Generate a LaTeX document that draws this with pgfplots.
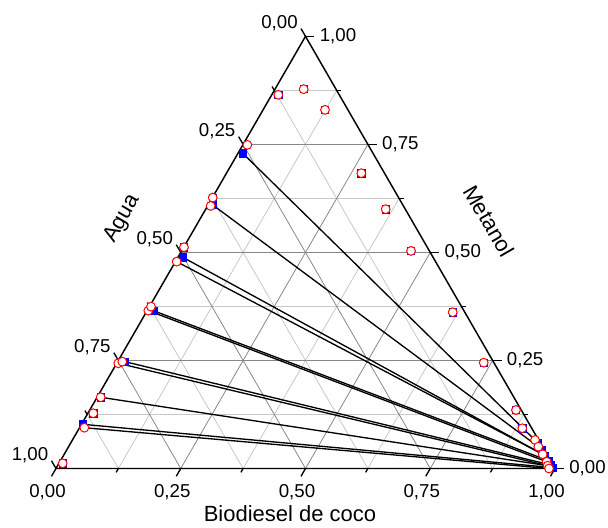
\documentclass[border=0pt]{standalone}
\usepackage{pgfplots}
\pgfplotsset{compat=1.18}
\usepackage{pgfplotstable}
\usepackage{fontspec}
\setmainfont{Liberation Sans}

% ternary data: B = Biodiesel de coco, M = Metanol (Agua = 1 - B - M)
\pgfplotstableread{
B M
0.0132 0.8646
0.0575 0.8778
0.1242 0.8299
0.2702 0.6833
0.3607 0.6000
0.4597 0.5035
0.6142 0.3616
0.7347 0.2449
0.8541 0.1354
0.8879 0.0931
0.0093 0.7296
0.0006 0.6269
0.0090 0.6100
0.0005 0.5120
0.0095 0.4889
0.0124 0.3653
0.0147 0.2472
0.0072 0.1648
0.0108 0.1278
0.0024 0.1023
0.0074 0.0120
0.9350 0.0600
0.9520 0.0440
0.9650 0.0300
0.9780 0.0180
0.9880 0.0080
0.9950 0.0020
}\expdata

\pgfplotstableread{
B M
0.0132 0.8646
0.0575 0.8778
0.1242 0.8299
0.2702 0.6833
0.3607 0.6000
0.4597 0.5035
0.6142 0.3616
0.7347 0.2449
0.8541 0.1354
0.8879 0.0931
0.9269 0.0660
0.9413 0.0505
0.9589 0.0329
0.9755 0.0157
0.9821 0.0065
0.9880 0.0000
0.0090 0.7488
0.0006 0.6269
0.0062 0.6076
0.0005 0.5120
0.0025 0.4787
0.0024 0.3653
0.0031 0.3745
0.0030 0.2435
0.0093 0.2472
0.0072 0.1648
0.0108 0.1278
0.0095 0.0944
0.0074 0.0120
}\calcdata

\pgfplotsset{
  /pgfplots/table/tern/.style={
    /pgfplots/table/x expr=\thisrow{B}+0.5*\thisrow{M},
    /pgfplots/table/y expr=0.8660254*\thisrow{M}},
  tie/.style={black, line width=1pt, no marks},
}

\definecolor{gmaj}{RGB}{135,135,135}
\definecolor{gmin}{RGB}{200,200,200}

\begin{document}
\begin{tikzpicture}
\def\U{374.25pt}
\begin{scope}[x=\U, y=\U, font=\fontsize{14}{16}\selectfont]
\def\h{0.8660254}
\useasboundingbox (-0.11222,-0.11723) rectangle (1.10621,0.93888);
% minor grid
\foreach \v in {0.125,0.375,0.625,0.875}{
  \draw[gmin, line width=0.6pt] ({\v/2},{\v*\h}) -- ({1-\v/2},{\v*\h});
  \draw[gmin, line width=0.6pt] (\v,0) -- ({\v+(1-\v)/2},{(1-\v)*\h});
  \draw[gmin, line width=0.6pt] ({1-\v},0) -- ({(1-\v)/2},{(1-\v)*\h});
}
% major grid
\foreach \v in {0.25,0.5,0.75}{
  \draw[gmaj, line width=0.6pt] ({\v/2},{\v*\h}) -- ({1-\v/2},{\v*\h});
  \draw[gmaj, line width=0.6pt] (\v,0) -- ({\v+(1-\v)/2},{(1-\v)*\h});
  \draw[gmaj, line width=0.6pt] ({1-\v},0) -- ({(1-\v)/2},{(1-\v)*\h});
}
% frame
\draw[black, line width=1.1pt, line join=miter] (0,0) -- (1,0) -- (0.5,\h) -- cycle;
% minor ticks
\foreach \v in {0.125,0.375,0.625,0.875}{
  \draw[black, line width=1pt] (\v,0) -- ++({-0.5*0.009},{-\h*0.009});
  \draw[black, line width=1pt] ({1-\v/2},{\v*\h}) -- ++(0.009,0);
  \draw[black, line width=1pt] ({(1-\v)/2},{(1-\v)*\h}) -- ++({-0.5*0.009},{\h*0.009});
}
% major ticks and labels
\foreach \v/\t in {0/{0,00},0.25/{0,25},0.5/{0,50},0.75/{0,75},1/{1,00}}{
  \draw[black, line width=1pt] (\v,0) -- ++({-0.5*0.018},{-\h*0.018})
     node[anchor=north, xshift=-3pt, yshift=-2pt] {\t};
  \draw[black, line width=1pt] ({1-\v/2},{\v*\h}) -- ++(0.018,0)
     node[anchor=west, inner sep=3.5pt] {\t};
  \draw[black, line width=1pt] ({(1-\v)/2},{(1-\v)*\h}) -- ++({-0.5*0.018},{\h*0.018})
     node[anchor=base east, inner sep=2pt] {\t};
}
% axis titles
\node[font=\fontsize{16.5}{19}\selectfont, inner sep=0.5pt] at (0.469,-0.0905) {Biodiesel de coco};
\node[font=\fontsize{16.5}{19}\selectfont, inner sep=0pt, rotate=60] at (0.1333,0.500) {Agua};
\node[font=\fontsize{16.5}{19}\selectfont, inner sep=0pt, rotate=-60] at (0.8680,0.496) {Metanol};
\end{scope}

\begin{axis}[
  anchor=origin, at={(0,0)},
  x=\U, y=\U,
  xmin=-0.11222, xmax=1.10621, ymin=-0.11723, ymax=0.93888,
  hide axis, clip=false,
]
% tie lines (experimental)
\addplot[tie] table[tern, row sep=\\] {B M\\ 0.0093 0.7296\\ 0.9350 0.0600\\};
\addplot[tie] table[tern, row sep=\\] {B M\\ 0.0090 0.6100\\ 0.9520 0.0440\\};
\addplot[tie] table[tern, row sep=\\] {B M\\ 0.0095 0.4889\\ 0.9650 0.0300\\};
\addplot[tie] table[tern, row sep=\\] {B M\\ 0.0124 0.3653\\ 0.9780 0.0180\\};
\addplot[tie] table[tern, row sep=\\] {B M\\ 0.0147 0.2472\\ 0.9880 0.0080\\};
\addplot[tie] table[tern, row sep=\\] {B M\\ 0.0024 0.1023\\ 0.9950 0.0020\\};
% tie lines (calculated)
\addplot[tie] table[tern, row sep=\\] {B M\\ 0.0025 0.4787\\ 0.9589 0.0329\\};
\addplot[tie] table[tern, row sep=\\] {B M\\ 0.0024 0.3653\\ 0.9755 0.0157\\};
\addplot[tie] table[tern, row sep=\\] {B M\\ 0.0030 0.2435\\ 0.9821 0.0065\\};
\addplot[tie] table[tern, row sep=\\] {B M\\ 0.0072 0.1648\\ 0.9821 0.0065\\};
\addplot[tie] table[tern, row sep=\\] {B M\\ 0.0095 0.0944\\ 0.9880 0.0000\\};
% points
\addplot[only marks, mark=square*, mark size=2.7pt, color={rgb,255:red,0;green,0;blue,255}]
  table[tern] {\expdata};
\addplot[only marks, mark=*, mark size=3.3pt,
  mark options={draw={rgb,255:red,255;green,0;blue,0}, fill=white, line width=0.75pt}]
  table[tern] {\calcdata};
\end{axis}
\end{tikzpicture}
\end{document}
